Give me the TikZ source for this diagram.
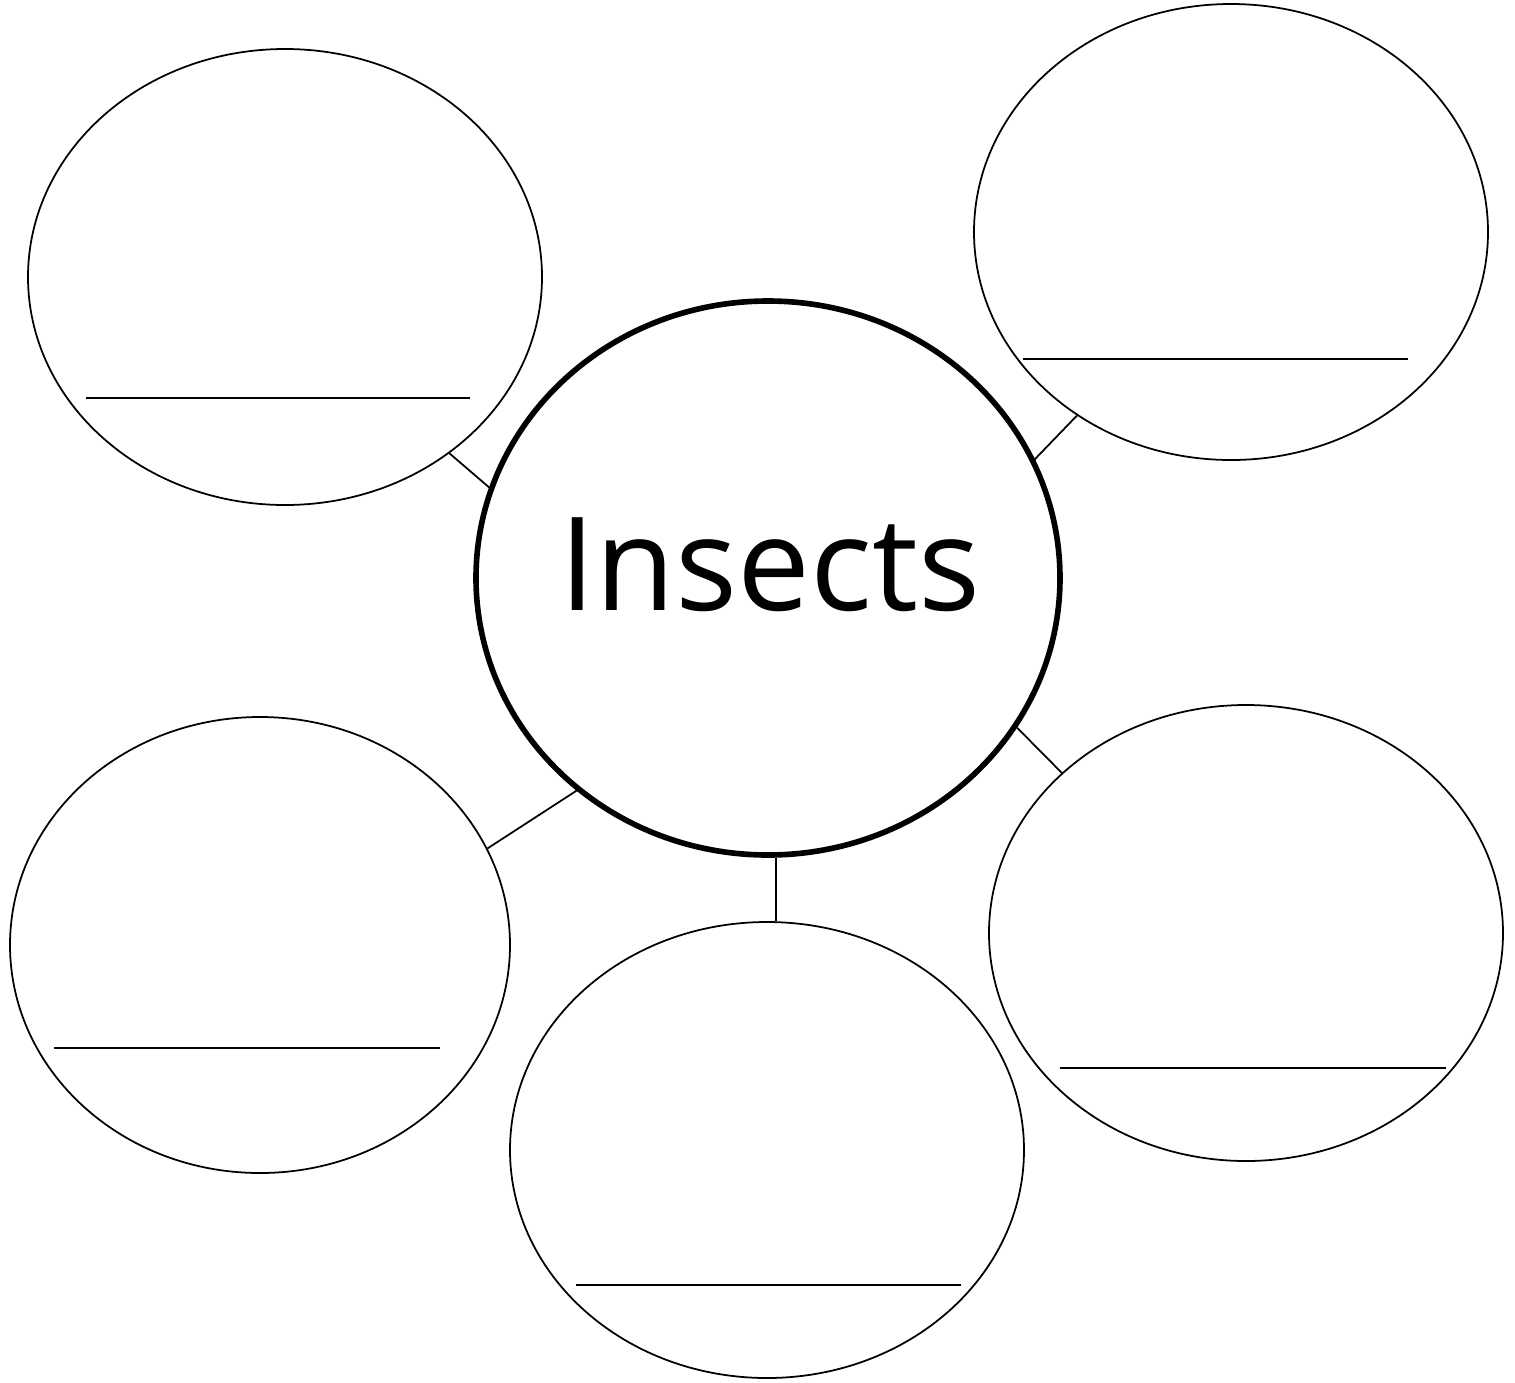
\documentclass[tikz,border=0pt]{standalone}
\usepackage{fontspec}
\setmainfont{Open Sans}
\usetikzlibrary{shapes.geometric}
\tikzset{
  bubble/.style={draw, ellipse, line width=0.5pt, inner sep=0pt, minimum width=5.14cm, minimum height=4.56cm},
  hub/.style={draw, ellipse, line width=1.6pt, inner sep=0pt, minimum width=5.84cm, minimum height=5.54cm},
  answer/.style={line width=0.5pt}
}
\begin{document}
\begin{tikzpicture}
\useasboundingbox (0,0) rectangle (15.15,-13.82);
\node[hub] (insects) at (7.68,-5.78) {};
\node[font=\fontsize{37}{40}\selectfont] (title) at (7.70,-5.65) {Insects};
\node[bubble] (topleft) at (2.85,-2.77) {};
\node[bubble] (topright) at (12.31,-2.32) {};
\node[bubble, minimum width=5.00cm] (botleft) at (2.60,-9.45) {};
\node[bubble] (botmid) at (7.67,-11.50) {};
\node[bubble] (botright) at (12.46,-9.33) {};
% answer lines
\draw[answer] (0.86,-3.98) -- (4.70,-3.98);
\draw[answer] (10.23,-3.59) -- (14.08,-3.59);
\draw[answer] (0.54,-10.48) -- (4.40,-10.48);
\draw[answer] (5.76,-12.85) -- (9.61,-12.85);
\draw[answer] (10.60,-10.68) -- (14.46,-10.68);
% spokes
\draw[answer] (insects.162) -- (topleft.-47);
\draw[answer] (insects.24) -- (topright.230);
\draw[answer] (insects.228) -- (botleft.23);
\draw[answer] ([xshift=0.08cm]insects.south) -- ([xshift=0.08cm]insects.south |- botmid.north);
\draw[answer] (insects.-31) -- (botright.139);
\end{tikzpicture}
\end{document}
